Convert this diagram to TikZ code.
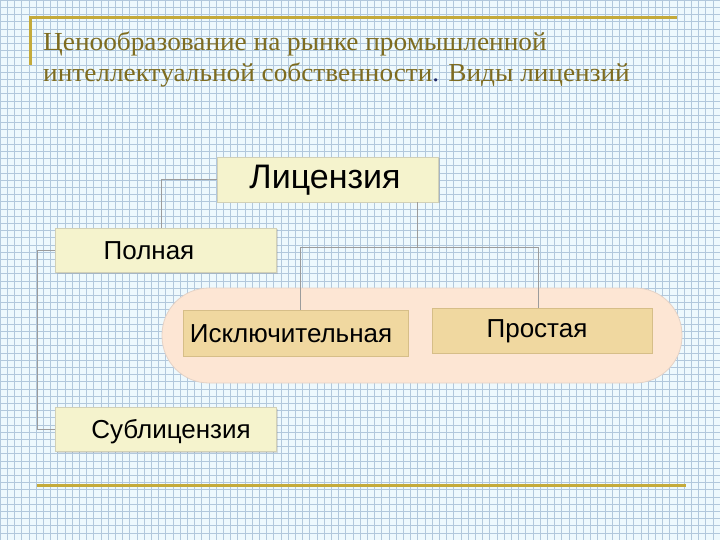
\documentclass[tikz,border=0pt]{standalone}
\usepackage{fontspec}
\setmainfont{Liberation Sans}
\newfontfamily\ttlfont[FakeStretch=1.05]{Liberation Serif}
\usetikzlibrary{calc,shadows}
\definecolor{gridbg}{HTML}{EEF9FD}
\definecolor{gridln}{HTML}{B2C8DC}
\definecolor{goldln}{HTML}{C4AA3A}
\definecolor{ttlcol}{HTML}{7E6C20}
\definecolor{dotcol}{HTML}{1F2A6B}
\definecolor{boxfill}{HTML}{F5F3CD}
\definecolor{boxdraw}{HTML}{D2D0B6}
\definecolor{ovalfill}{HTML}{FDE6D4}
\definecolor{ovaldraw}{HTML}{E4D2C6}
\definecolor{tanfill}{HTML}{F0D8A0}
\definecolor{tandraw}{HTML}{D6BE88}
\definecolor{conn}{HTML}{9C9C9C}
\tikzset{
  gridline/.style={draw=gridln,line width=0.45pt},
  goldline/.style={draw=goldln,line width=3pt},
  ttl/.style={anchor=base west,inner sep=0pt,text=ttlcol,font=\ttlfont\fontsize{26}{30}\selectfont},
  lightbox/.style={draw=boxdraw,fill=boxfill,line width=0.6pt,inner sep=0pt,
    drop shadow={opacity=0.25,shadow xshift=1.5pt,shadow yshift=-1.5pt}},
  tanbox/.style={draw=tandraw,fill=tanfill,line width=0.6pt,inner sep=0pt},
  lbl/.style={inner sep=0pt,anchor=base,text=black},
  connector/.style={draw=conn,line width=0.7pt}
}
\begin{document}
\begin{tikzpicture}[x=1pt,y=-1pt]
\useasboundingbox (0,0) rectangle (720,540);
\fill[gridbg] (0,0) rectangle (720,540);
\foreach \i in {0,...,100} {\draw[gridline] (\i*7.2,0) -- (\i*7.2,540);}
\foreach \j in {0,...,75} {\draw[gridline] (0,\j*7.2) -- (720,\j*7.2);}
% title frame
\draw[goldline] (30,65) -- (30,18) -- (677,18);
\draw[goldline] (37,485) -- (686,485);
\node[ttl] (t1) at (43,51) {Ценообразование на рынке промышленной};
\node[ttl] (t2) at (43,82) {интеллектуальной собственности{\color{dotcol}.} Виды лицензий};
% oval group
\node[draw=ovaldraw,fill=ovalfill,line width=0.8pt,rounded corners=47pt,minimum width=520pt,minimum height=95pt,inner sep=0pt] (oval) at (422,335.5) {};
% boxes
\node[lightbox,minimum width=221pt,minimum height=45pt] (lic) at (327.5,179.5) {};
\node[lightbox,minimum width=221pt,minimum height=44pt] (pol) at (165.5,250) {};
\node[lightbox,minimum width=221pt,minimum height=44pt] (sub) at (165.5,429) {};
\node[tanbox,minimum width=225pt,minimum height=46pt] (isk) at (295.5,333) {};
\node[tanbox,minimum width=220pt,minimum height=45pt] (pro) at (542,330.5) {};
% labels
\node[lbl,font=\fontsize{34}{38}\selectfont] (licT) at (325,189) {Лицензия};
\node[lbl,font=\fontsize{26}{30}\selectfont] (polT) at (149,259) {Полная};
\node[lbl,font=\fontsize{26}{30}\selectfont] (subT) at (171,438) {Сублицензия};
\node[lbl,font=\fontsize{26}{30}\selectfont] (iskT) at (291,342) {Исключительная};
\node[lbl,font=\fontsize{26}{30}\selectfont] (proT) at (537,337) {Простая};
% connectors
\coordinate (j) at ($(lic.south)+(89.5,45)$);
\draw[connector] (lic.west) -| ([xshift=-4.5pt]pol.north);
\draw[connector] ([xshift=89.5pt]lic.south) -- (j);
\draw[connector] ([xshift=4.5pt]isk.north) |- ([xshift=-4pt]pro.north |- j) -- ([xshift=-4pt]pro.north);
\draw[connector] (pol.west) -- ++(-17,0) |- (sub.west);
\end{tikzpicture}
\end{document}
